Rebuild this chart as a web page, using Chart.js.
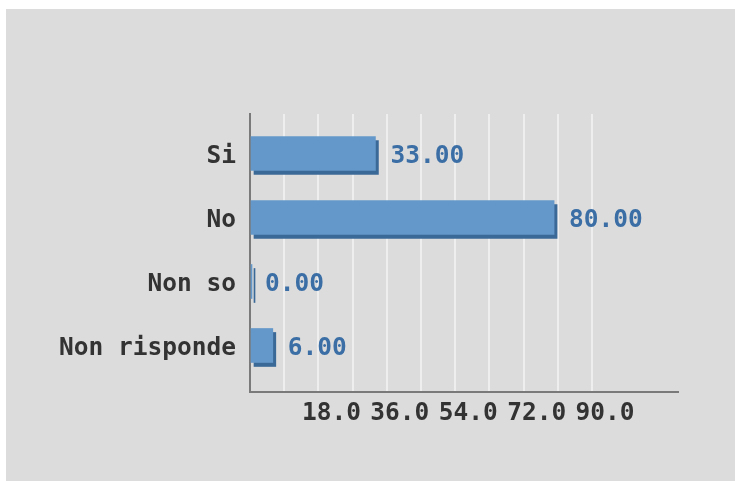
<!DOCTYPE html>
<html>
<head>
<meta charset="utf-8">
<script src="https://cdn.jsdelivr.net/npm/chart.js@4/dist/chart.umd.min.js"></script>
<style>
  html, body { margin: 0; padding: 0; background: #ffffff; }
  canvas { display: block; }
</style>
</head>
<body>
<canvas id="chart" width="735" height="481"></canvas>
<script>
// data
const categories = ['Si', 'No', 'Non so', 'Non risponde'];
const values = [33, 80, 0, 6];
const tickLabels = [18, 36, 54, 72, 90];

const FONT = '"DejaVu Sans Mono", monospace';

// grey panel behind the chart
const panel = {
    id: 'panel',
    beforeDraw(chart) {
        const ctx = chart.ctx;
        ctx.save();
        ctx.fillStyle = '#dcdcdc';
        ctx.fillRect(6, 9, chart.width - 6, chart.height - 9);
        ctx.restore();
    }
};

// 3d-ish shadow under the bars + value labels
const barLook = {
    id: 'barLook',
    beforeDatasetsDraw(chart) {
        const ctx = chart.ctx;
        ctx.save();
        ctx.shadowColor = '#3a6897';
        ctx.shadowOffsetX = 3;
        ctx.shadowOffsetY = 4;
        ctx.shadowBlur = 0;
    },
    afterDatasetsDraw(chart) {
        const ctx = chart.ctx;
        ctx.restore();
        const meta = chart.getDatasetMeta(0);
        const xs = chart.scales.x;
        ctx.save();
        ctx.font = 'bold 24.5px ' + FONT;
        ctx.fillStyle = '#3a6ea5';
        ctx.textBaseline = 'middle';
        ctx.textAlign = 'left';
        meta.data.forEach((bar, i) => {
            ctx.fillText(values[i].toFixed(2), xs.getPixelForValue(values[i]) + 15, bar.y + 3);
        });
        ctx.restore();
    }
};

new Chart(document.getElementById('chart'), {
    type: 'bar',
    data: {
        datasets: [{
            data: categories.map((c, i) => ({ x: values[i], y: i })),
            backgroundColor: '#6598ca',
            borderWidth: 0,
            barThickness: 34,
            minBarLength: 2
        }]
    },
    options: {
        indexAxis: 'y',
        responsive: false,
        animation: false,
        layout: {
            padding: { left: 0, top: 114, right: 57, bottom: 0 }
        },
        plugins: {
            legend: { display: false },
            tooltip: { enabled: false }
        },
        scales: {
            x: {
                type: 'linear',
                min: 0,
                max: 112.6,
                afterFit(scale) { scale.height = 89; },
                grid: {
                    drawTicks: false,
                    lineWidth: 2,
                    color: (c) => (c.tick && c.tick.value > 0 && c.tick.value <= 90) ? '#eeeeee' : 'rgba(0,0,0,0)'
                },
                border: { display: true, color: '#7a7a7a', width: 2 },
                ticks: {
                    stepSize: 9,
                    autoSkip: false,
                    maxRotation: 0,
                    padding: 7,
                    labelOffset: 13,
                    color: '#333333',
                    font: { family: FONT, size: 24.5, weight: 'bold' },
                    callback: (v) => tickLabels.includes(v) ? v.toFixed(1) : ''
                }
            },
            y: {
                type: 'linear',
                reverse: true,
                offset: false,
                min: -0.617,
                max: 3.727,
                afterFit(scale) { scale.width = 250; },
                grid: { display: false, drawTicks: false },
                border: { display: true, color: '#7a7a7a', width: 2 },
                ticks: {
                    stepSize: 1,
                    autoSkip: false,
                    padding: 14,
                    labelOffset: 3,
                    color: '#333333',
                    font: { family: FONT, size: 24.5, weight: 'bold' },
                    callback: (v) => Number.isInteger(v) && categories[v] !== undefined ? categories[v] : ''
                }
            }
        }
    },
    plugins: [panel, barLook]
});
</script>
</body>
</html>
